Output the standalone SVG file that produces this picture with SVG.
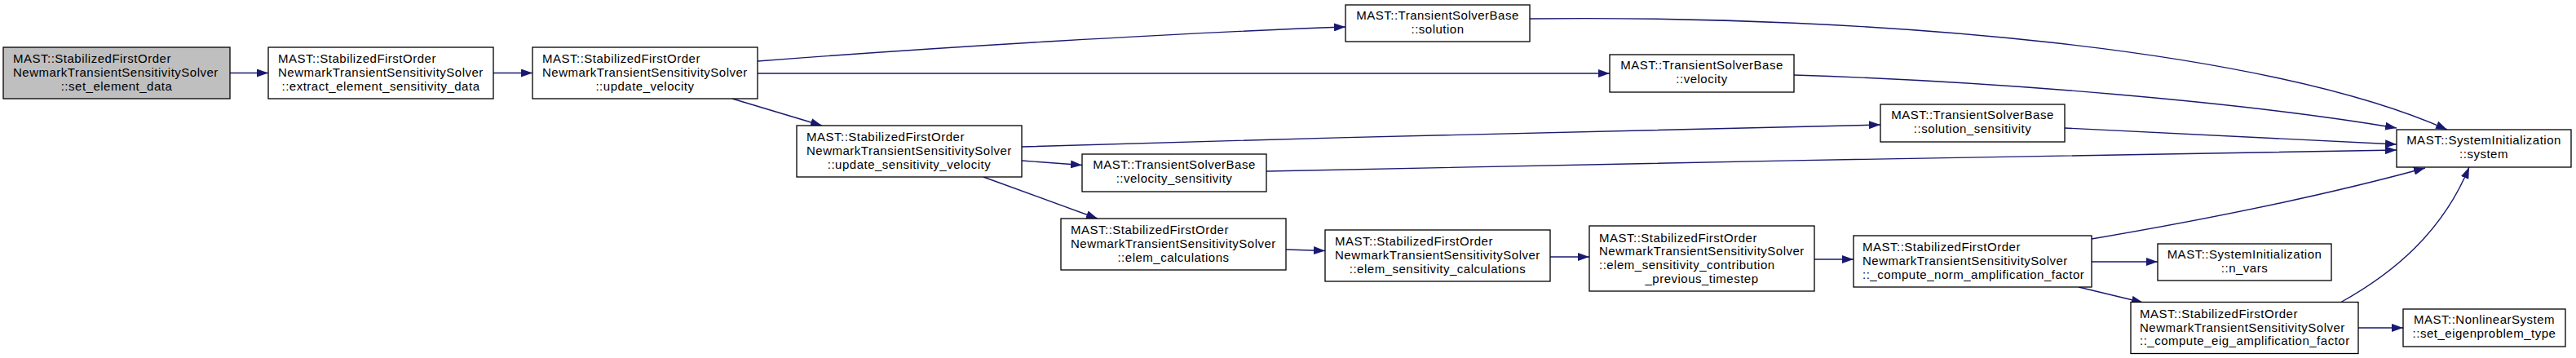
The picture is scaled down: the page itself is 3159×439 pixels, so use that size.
<svg xmlns="http://www.w3.org/2000/svg" width="3159" height="439" viewBox="0 0 3159 439">
<defs>
<marker id="a" markerUnits="userSpaceOnUse" markerWidth="14" markerHeight="10" refX="14" refY="5" orient="auto" viewBox="0 0 14 10"><path d="M0,0 L14,5 L0,10 Z" fill="#191970" stroke="none"/></marker>
</defs>
<style>
.n rect{fill:#fff;stroke:#000;stroke-width:1.3}
.root rect{fill:#bfbfbf}
text{font-family:"Liberation Sans",Arial,Helvetica,sans-serif;font-size:15px;letter-spacing:0.5px;fill:#000}
.c{text-anchor:middle}
.e path{fill:none;stroke:#191970;stroke-width:1.4;marker-end:url(#a)}
</style>
<rect x="0" y="0" width="3159" height="439" fill="#fff"/>
<g id="edges" class="e">
<path d="M282,89.5 L329,89.5"/>
<path d="M605,89.5 L653,89.5"/>
<path d="M929,75 C1150,58 1450,40 1650,33"/>
<path d="M929,90 L1974,90"/>
<path d="M898,121 L1008,154"/>
<path d="M1253,180 C1600,170 2000,158 2306,153"/>
<path d="M1253,197 L1327,202.5"/>
<path d="M1206,217 L1346,268"/>
<path d="M1876,23 C2300,18 2780,60 3001,159"/>
<path d="M2200,92 C2450,100 2750,125 2939,157"/>
<path d="M2532,157 L2939,177"/>
<path d="M1553,210 C2000,201 2500,190 2939,184"/>
<path d="M1577,306 L1625,307.5"/>
<path d="M1901,315 L1949,315"/>
<path d="M2225,318 L2273,318"/>
<path d="M2565,293 C2700,270 2850,240 2974,206"/>
<path d="M2565,321 L2646,321"/>
<path d="M2549,352 L2628,371"/>
<path d="M2870,371 C2935,335 2995,285 3028,205"/>
<path d="M2892,402 L2947,402"/>
</g>
<g id="set_element_data" class="n root">
<rect x="4" y="58" width="278" height="63"/>
<text x="16" y="77.3">MAST::StabilizedFirstOrder</text>
<text x="16" y="94">NewmarkTransientSensitivitySolver</text>
<text class="c" x="143" y="110.7">::set_element_data</text>
</g>
<g id="extract_element_sensitivity_data" class="n">
<rect x="329" y="58" width="276" height="63"/>
<text x="341" y="77.3">MAST::StabilizedFirstOrder</text>
<text x="341" y="94">NewmarkTransientSensitivitySolver</text>
<text class="c" x="467" y="110.7">::extract_element_sensitivity_data</text>
</g>
<g id="update_velocity" class="n">
<rect x="653" y="58" width="276" height="63"/>
<text x="665" y="77.3">MAST::StabilizedFirstOrder</text>
<text x="665" y="94">NewmarkTransientSensitivitySolver</text>
<text class="c" x="791" y="110.7">::update_velocity</text>
</g>
<g id="solution" class="n">
<rect x="1650" y="6" width="226" height="45"/>
<text class="c" x="1763" y="23.5">MAST::TransientSolverBase</text>
<text class="c" x="1763" y="40.5">::solution</text>
</g>
<g id="velocity" class="n">
<rect x="1974" y="67" width="226" height="46"/>
<text class="c" x="2087" y="85">MAST::TransientSolverBase</text>
<text class="c" x="2087" y="102">::velocity</text>
</g>
<g id="update_sensitivity_velocity" class="n">
<rect x="977" y="154" width="276" height="63"/>
<text x="989" y="173.3">MAST::StabilizedFirstOrder</text>
<text x="989" y="190">NewmarkTransientSensitivitySolver</text>
<text class="c" x="1115" y="206.7">::update_sensitivity_velocity</text>
</g>
<g id="solution_sensitivity" class="n">
<rect x="2306" y="128" width="226" height="46"/>
<text class="c" x="2419" y="146">MAST::TransientSolverBase</text>
<text class="c" x="2419" y="163">::solution_sensitivity</text>
</g>
<g id="velocity_sensitivity" class="n">
<rect x="1327" y="189" width="226" height="46"/>
<text class="c" x="1440" y="207">MAST::TransientSolverBase</text>
<text class="c" x="1440" y="224">::velocity_sensitivity</text>
</g>
<g id="system" class="n">
<rect x="2939" y="159" width="214" height="46"/>
<text class="c" x="3046" y="177">MAST::SystemInitialization</text>
<text class="c" x="3046" y="194">::system</text>
</g>
<g id="elem_calculations" class="n">
<rect x="1301" y="268" width="276" height="63"/>
<text x="1313" y="287.3">MAST::StabilizedFirstOrder</text>
<text x="1313" y="304">NewmarkTransientSensitivitySolver</text>
<text class="c" x="1439" y="320.7">::elem_calculations</text>
</g>
<g id="elem_sensitivity_calculations" class="n">
<rect x="1625" y="282" width="276" height="63"/>
<text x="1637" y="301.3">MAST::StabilizedFirstOrder</text>
<text x="1637" y="318">NewmarkTransientSensitivitySolver</text>
<text class="c" x="1763" y="334.7">::elem_sensitivity_calculations</text>
</g>
<g id="elem_sensitivity_contribution_previous_timestep" class="n">
<rect x="1949" y="277" width="276" height="80"/>
<text x="1961" y="296.5">MAST::StabilizedFirstOrder</text>
<text x="1961" y="313.2">NewmarkTransientSensitivitySolver</text>
<text x="1961" y="329.9">::elem_sensitivity_contribution</text>
<text class="c" x="2087" y="346.6">_previous_timestep</text>
</g>
<g id="compute_norm_amplification_factor" class="n">
<rect x="2273" y="289" width="292" height="63"/>
<text x="2284" y="308.3">MAST::StabilizedFirstOrder</text>
<text x="2284" y="325">NewmarkTransientSensitivitySolver</text>
<text x="2284" y="341.7">::_compute_norm_amplification_factor</text>
</g>
<g id="n_vars" class="n">
<rect x="2646" y="299" width="213" height="45"/>
<text class="c" x="2752.5" y="316.5">MAST::SystemInitialization</text>
<text class="c" x="2752.5" y="333.5">::n_vars</text>
</g>
<g id="compute_eig_amplification_factor" class="n">
<rect x="2613" y="370.5" width="279" height="63"/>
<text x="2624" y="389.8">MAST::StabilizedFirstOrder</text>
<text x="2624" y="406.5">NewmarkTransientSensitivitySolver</text>
<text x="2624" y="423.2">::_compute_eig_amplification_factor</text>
</g>
<g id="set_eigenproblem_type" class="n">
<rect x="2947" y="379" width="199" height="46"/>
<text class="c" x="3046.5" y="397">MAST::NonlinearSystem</text>
<text class="c" x="3046.5" y="414">::set_eigenproblem_type</text>
</g>
</svg>
